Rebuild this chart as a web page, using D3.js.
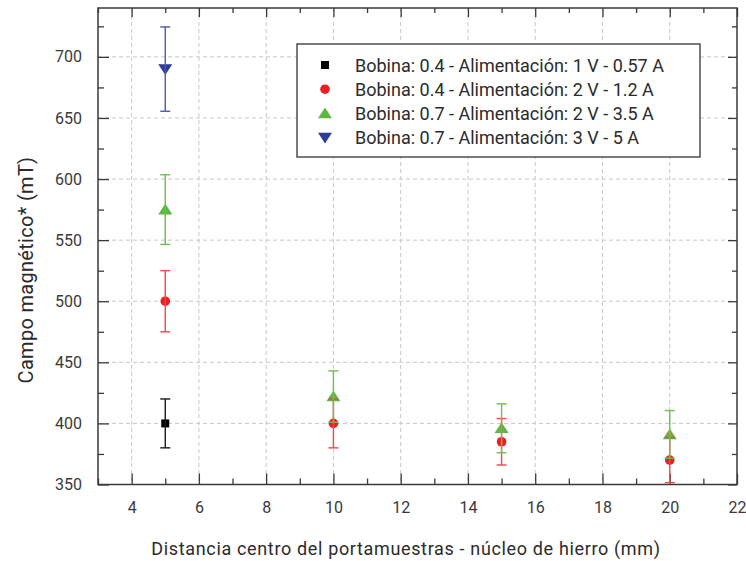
<!DOCTYPE html>
<html>
<head>
<meta charset="utf-8">
<script src="https://d3js.org/d3.v7.min.js"></script>
<style>
    body { margin: 0; background: #fff; }
    svg { display: block; }
    .axis path, .axis line { stroke: #3a3a3a; }
    .axis text { fill: #3a3a3a; font-family: Roboto, sans-serif; font-size: 16px; }
</style>
</head>
<body>
<svg width="746" height="561"></svg>
<script>
// series names (legend)
const seriesNames = [
    "Bobina: 0.4 - Alimentación: 1 V - 0.57 A",
    "Bobina: 0.4 - Alimentación: 2 V - 1.2 A",
    "Bobina: 0.7 - Alimentación: 2 V - 3.5 A",
    "Bobina: 0.7 - Alimentación: 3 V - 5 A"
]
// data
const xBlack = [5]
const yBlack = [400]
const errBlack = [20]
const xRed = [5, 10, 15, 20]
const yRed = [500, 400, 385, 370]
const errRed = [25, 20, 19, 18.5]
const xGreen = [5, 10, 15, 20]
const yGreen = [575, 422, 396, 391]
const errGreen = [28.5, 21, 20, 19.5]
const xBlue = [5]
const yBlue = [690]
const errBlue = [34.5]
// ticks
const xTicks = [4, 6, 8, 10, 12, 14, 16, 18, 20, 22]
const xMinorTicks = [3, 5, 7, 9, 11, 13, 15, 17, 19, 21]
const yTicks = [350, 400, 450, 500, 550, 600, 650, 700]
const yMinorTicks = [375, 425, 475, 525, 575, 625, 675, 725]

const series = [
    {name: seriesNames[0], x: xBlack, y: yBlack, e: errBlack, shape: "square", fill: "#000000", bar: "#1a1a1a"},
    {name: seriesNames[1], x: xRed, y: yRed, e: errRed, shape: "circle", fill: "#ee1d23", bar: "#f2474b"},
    {name: seriesNames[2], x: xGreen, y: yGreen, e: errGreen, shape: "up", fill: "#5cb843", bar: "#6cc04f"},
    {name: seriesNames[3], x: xBlue, y: yBlue, e: errBlue, shape: "down", fill: "#2e3c96", bar: "#4a5ab0"}
]

const plotL = 98, plotR = 737, plotT = 8, plotB = 484.5
const svg = d3.select("svg")
const x = d3.scaleLinear().domain([3, 22]).range([plotL, plotR])
const y = d3.scaleLinear().domain([350, 740]).range([plotB, plotT])

// grid
const grid = svg.append("g")
grid.selectAll("line.gx").data(xTicks.filter(d => d < 22)).enter().append("line")
    .attr("x1", d => x(d)).attr("x2", d => x(d)).attr("y1", plotT).attr("y2", plotB)
    .attr("stroke", "#c8c8c8").attr("stroke-dasharray", "4,3")
grid.selectAll("line.gy").data(yTicks.filter(d => d > 350)).enter().append("line")
    .attr("y1", d => y(d)).attr("y2", d => y(d)).attr("x1", plotL).attr("x2", plotR)
    .attr("stroke", "#c8c8c8").attr("stroke-dasharray", "4,3")

// axes, ticks pointing inward
function addAxis(gen, scale, t, ticks, size, pad) {
    const a = gen(scale).tickValues(ticks).tickSizeInner(-size).tickSizeOuter(0)
    if (pad == null) a.tickFormat("")
    else a.tickPadding(pad)
    const g = svg.append("g").attr("class", "axis").attr("transform", t).call(a)
    g.select(".domain").remove()
    g.selectAll("line").attr("stroke-width", 1.3)
    return g
}
addAxis(d3.axisBottom, x, `translate(0,${plotB})`, xTicks, 11, 17)
addAxis(d3.axisBottom, x, `translate(0,${plotB})`, xMinorTicks, 6)
addAxis(d3.axisTop, x, `translate(0,${plotT})`, xTicks, 9)
addAxis(d3.axisTop, x, `translate(0,${plotT})`, xMinorTicks, 5)
addAxis(d3.axisLeft, y, `translate(${plotL},0)`, yTicks, 11, 16)
addAxis(d3.axisLeft, y, `translate(${plotL},0)`, yMinorTicks, 6)
addAxis(d3.axisRight, y, `translate(${plotR},0)`, yTicks, 9)
addAxis(d3.axisRight, y, `translate(${plotR},0)`, yMinorTicks, 5)

svg.append("rect").attr("x", plotL).attr("y", plotT)
    .attr("width", plotR - plotL).attr("height", plotB - plotT)
    .attr("fill", "none").attr("stroke", "#3a3a3a").attr("stroke-width", 1.5)

// marker shapes
function marker(sel, shape, color) {
    if (shape == "square") {
        sel.append("rect").attr("x", -4).attr("y", -4).attr("width", 8).attr("height", 8).attr("fill", color)
    } else if (shape == "circle") {
        sel.append("circle").attr("r", 4.8).attr("fill", color)
    } else if (shape == "up") {
        sel.append("path").attr("d", "M0,-6L7,4.8L-7,4.8Z").attr("fill", color)
    } else {
        sel.append("path").attr("d", "M0,6L7,-4.8L-7,-4.8Z").attr("fill", color)
    }
}

// markers first, error bars on top (as in the picture)
series.forEach(s => {
    s.x.forEach((xv, i) => {
        const g = svg.append("g").attr("transform", `translate(${x(xv)},${y(s.y[i])})`)
        marker(g, s.shape, s.fill)
    })
})
series.forEach(s => {
    const g = svg.append("g").attr("stroke", s.bar).attr("stroke-width", 1.4)
    s.x.forEach((xv, i) => {
        const cx = x(xv), y1 = y(s.y[i] + s.e[i]), y0 = y(s.y[i] - s.e[i])
        g.append("line").attr("x1", cx).attr("x2", cx).attr("y1", y1).attr("y2", y0)
        g.append("line").attr("x1", cx - 5).attr("x2", cx + 5).attr("y1", y1).attr("y2", y1)
        g.append("line").attr("x1", cx - 5).attr("x2", cx + 5).attr("y1", y0).attr("y2", y0)
    })
})

// legend
const legend = svg.append("g")
legend.append("rect").attr("x", 297).attr("y", 44).attr("width", 403).attr("height", 113)
    .attr("fill", "#fff").attr("stroke", "#333").attr("stroke-width", 1.3)
series.forEach((s, i) => {
    const ly = 65 + i * 24.2
    marker(legend.append("g").attr("transform", `translate(325,${ly})`), s.shape, s.fill)
    legend.append("text").attr("x", 355).attr("y", ly + 6.5)
        .style("font-family", "Roboto, sans-serif").style("font-size", "18px").attr("fill", "#2b2b2b")
        .text(s.name)
})

// axis titles
svg.append("text").attr("x", 406).attr("y", 555).attr("text-anchor", "middle")
    .style("font-family", "Roboto, sans-serif").style("font-size", "18px")
    .style("letter-spacing", "0.65px").attr("fill", "#2b2b2b")
    .text("Distancia centro del portamuestras - núcleo de hierro (mm)")
svg.append("text").attr("transform", "translate(33,270) rotate(-90)").attr("text-anchor", "middle")
    .style("font-family", "Roboto, sans-serif").style("font-size", "20px")
    .style("letter-spacing", "0.3px").attr("fill", "#2b2b2b")
    .text("Campo magnético* (mT)")
</script>
</body>
</html>
